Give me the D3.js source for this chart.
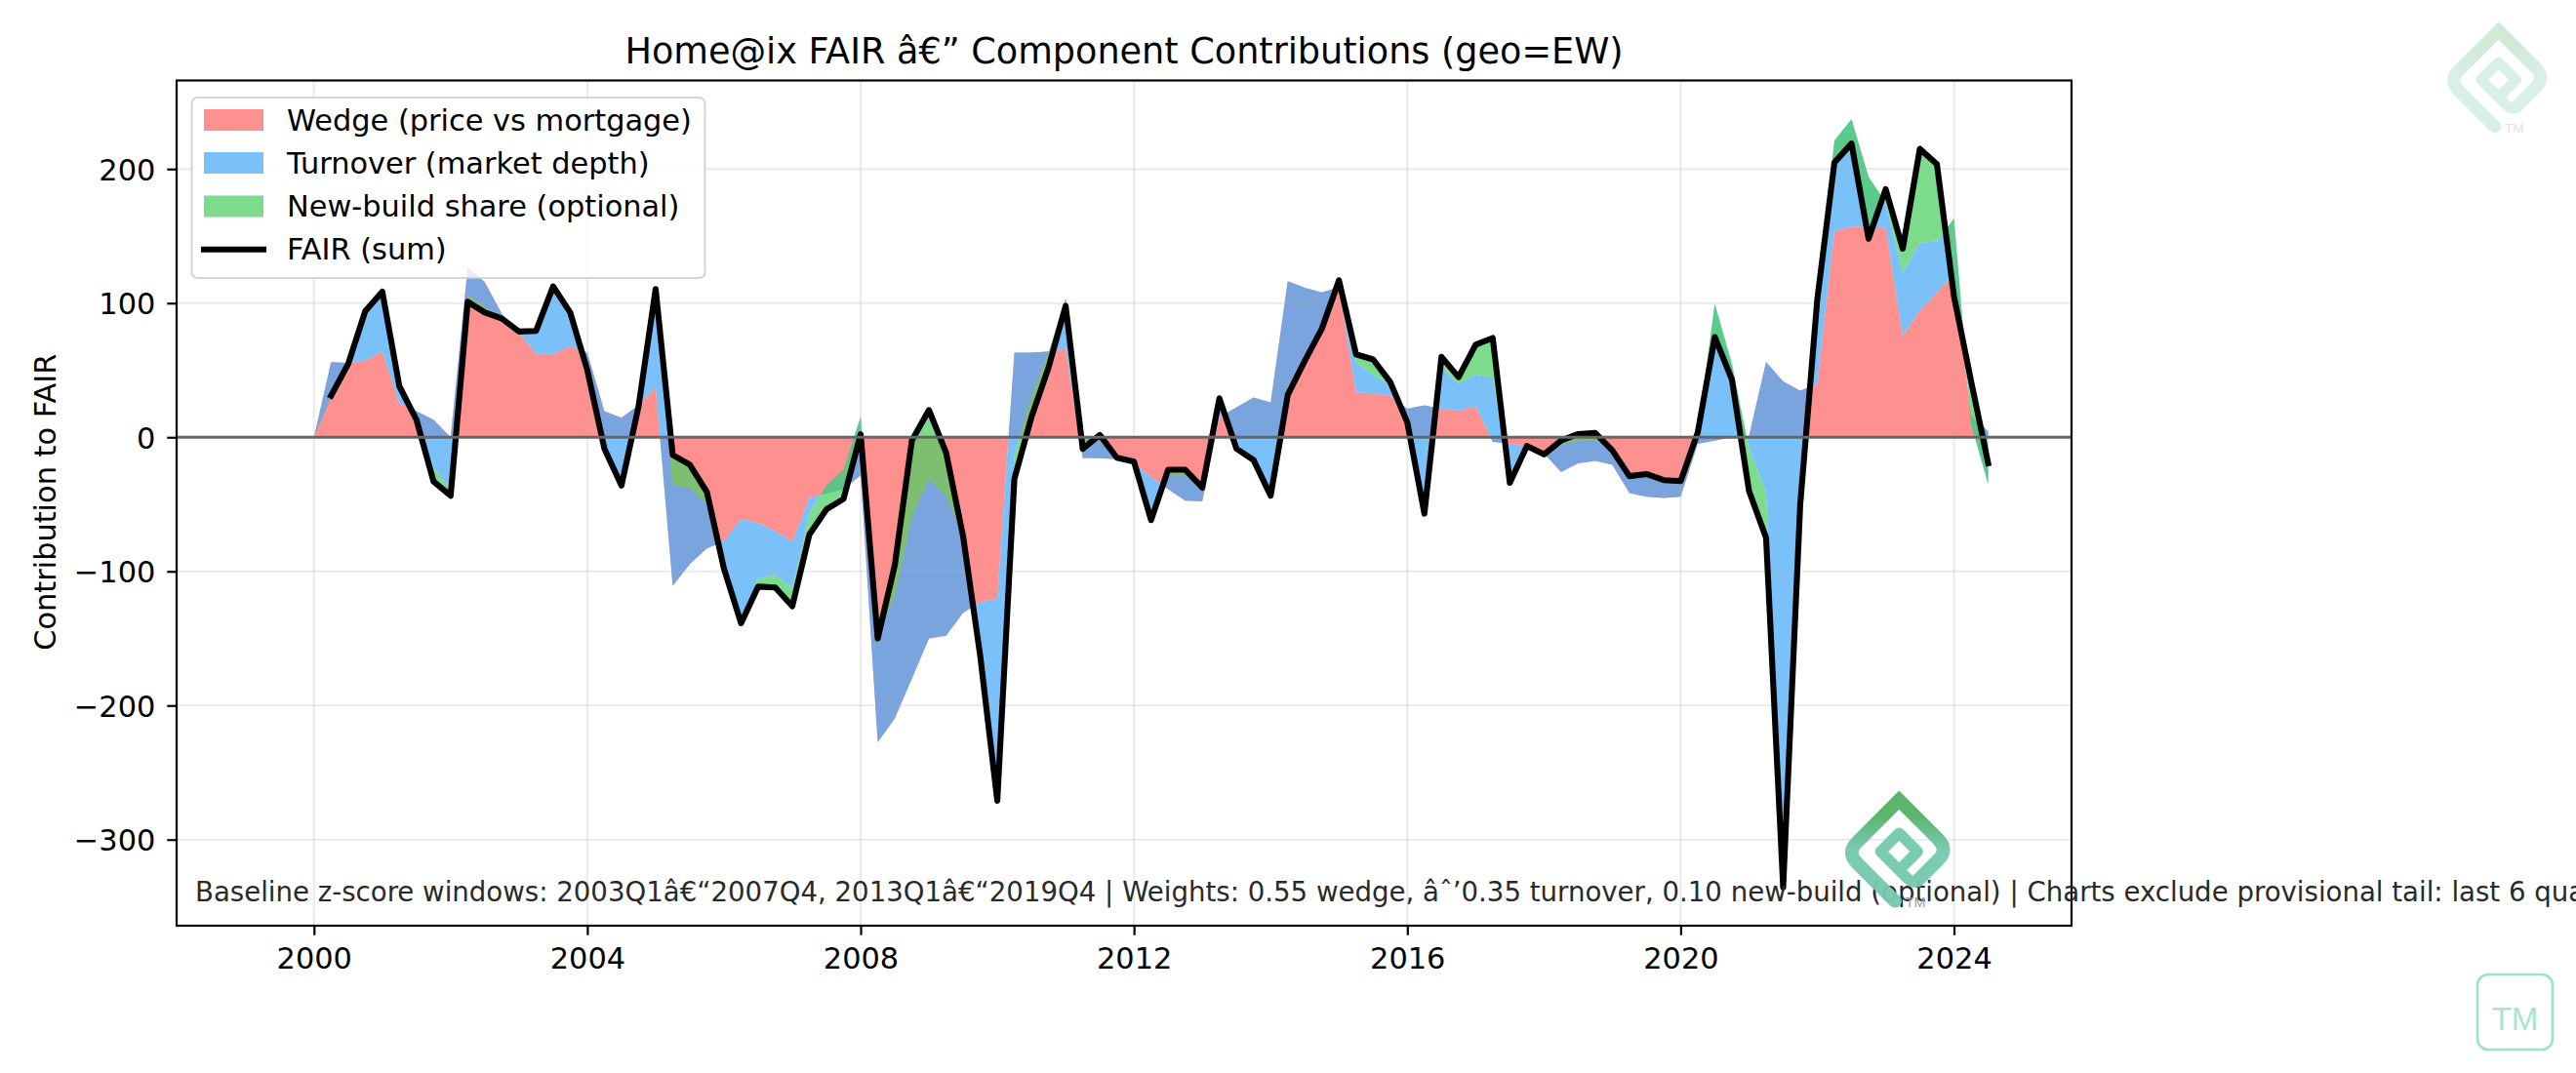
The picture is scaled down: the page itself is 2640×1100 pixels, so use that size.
<!DOCTYPE html>
<html>
<head>
<meta charset="utf-8">
<style>
  html, body { margin: 0; padding: 0; background: #fff; }
  svg { display: block; }
  text { font-family: "DejaVu Sans", sans-serif; }
</style>
<script src="https://cdn.jsdelivr.net/npm/d3@7/dist/d3.min.js"></script>
</head>
<body>
<svg id="chart" width="2640" height="1100"></svg>
<script>
// Quarterly contributions, first observation at 2000 Q1.
const startYear = 2000;
const wedge = [0,56,55.5,57,64,25,19.5,13,0,126.5,115.6,92,78,62.3,62,67.6,63,19.4,14.5,24,37.5,
  -111,-94.5,-83,-77.7,-61,-64,-70,-78,-45,-42,-39,-28.3,-227.5,-209.6,-180,-150,-148,-131,-123,-120.5,
  63,63,64,66,-15.5,-15.7,-16.4,-18.7,-29.8,-38.8,-47.3,-47.8,15,22.3,29.6,26,116.4,111.5,108,112,
  33.2,32.7,31,21.3,23.8,21,19.9,23,-3.5,-4.8,-7,-12,-26,-19.4,-17.7,-20.6,-41.7,-44.4,-45.3,-44.4,
  -5,-2.5,0,1,56.2,41.7,34.7,40,153.5,157,157,156,75.6,94.5,108,121.7,16,4.4];
const turnover = [0,-26,-1,37,44.6,13,-6.5,-36,-39,-20.5,-18.6,-3,0.8,17,47,25.4,-13,-27.9,-45.5,-1,73,
  75.7,56.5,33,-20.3,-77,-41.7,-32.6,-34.7,-12,6,14.6,43.6,80.5,91.6,120.5,119,104,59,-40,-141.5,
  -76,-33,-1,37.5,13,17.7,1.1,0.5,-30.2,9.8,19.3,10.2,14,-30.8,-46.6,-69.6,-78.8,-51.5,-27,5,
  22.6,14.1,8,-10.3,-80.8,31,20.1,23.8,48.3,-29.2,0.5,-0.8,20,17,15.7,10.9,12.7,17,13.3,11.7,
  8.6,101.9,54.5,-9.5,-97.2,-373.7,-77.7,60,67.5,80,37,19,46.8,50.5,38,41.3,-6,-39.4];
const newBuild = [0,1,0,0,0,0,0,-10,-4.6,-5,-4,-0.5,0,0,3.5,0,0,0,-5,0,0,
  22.1,17.5,9.2,0,-0.7,-5.7,-9.4,-13.3,-15.5,-17.8,-21.6,-13,-3,22.7,57.2,51.3,32.6,-2,0,-9,
  -18,-15,-11,-5.5,-6.2,-0.3,0,0,-1.8,4.8,3.8,0,0,0,0,0,-6.1,-3,0,0,
  6,11.2,2.2,0,0,7.9,4.8,22.2,29.2,0,0,0,3.6,4.8,5.2,0,0,0,0,0,
  0,-24.7,-11.5,-31.5,-34,-3.5,-7,3,-16.2,-18,-46,10,18.2,70,57.6,-58,32,15.6];

const yearTicks = [2000, 2004, 2008, 2012, 2016, 2020, 2024];
const valueTicks = [-300, -200, -100, 0, 100, 200];

const seriesNames = ["Wedge (price vs mortgage)", "Turnover (market depth)", "New-build share (optional)"];
const seriesColors = ["#ff6b6b", "#4dabf7", "#51cf66"];
const lineName = "FAIR (sum)";

const titleText = "Home@ix FAIR \u00e2\u20ac\u201d Component Contributions (geo=EW)";
const yLabel = "Contribution to FAIR";
const footNote = "Baseline z-score windows: 2003Q1\u00e2\u20ac\u201c2007Q4, 2013Q1\u00e2\u20ac\u201c2019Q4 | Weights: 0.55 wedge, \u00e2\u02c6\u20190.35 turnover, 0.10 new-build (optional) | Charts exclude provisional tail: last 6 quarters";

// Plot frame and scales
const frame = { left: 181, right: 2123, top: 82.5, bottom: 949 };
const x = d3.scaleLinear().domain([1997.99, 2025.72]).range([frame.left, frame.right]);
const y = d3.scaleLinear().domain([-364.2, 266]).range([frame.bottom, frame.top]);

const rows = wedge.map((w, i) => {
  const year = startYear + i / 4;
  const a = w, b = w + turnover[i], c = b + newBuild[i];
  return { i, year, a, b, c };
});

const svg = d3.select("#chart");

// Stacked bands: each one runs from the previous cumulative level to its own
const bands = [
  { lo: () => 0, hi: d => d.a },
  { lo: d => d.a, hi: d => d.b },
  { lo: d => d.b, hi: d => d.c }
];
const gBands = svg.append("g");
bands.forEach((band, k) => {
  const area = d3.area().x(d => x(d.year)).y0(d => y(band.lo(d))).y1(d => y(band.hi(d)));
  gBands.append("path").attr("d", area(rows)).attr("fill", seriesColors[k]).attr("fill-opacity", 0.75);
});

// Grid
const gGrid = svg.append("g").attr("stroke", "#b0b0b0").attr("stroke-opacity", 0.25).attr("stroke-width", 2.2);
gGrid.selectAll("line.v").data(yearTicks).join("line")
  .attr("x1", d => x(d)).attr("x2", d => x(d)).attr("y1", frame.top).attr("y2", frame.bottom);
gGrid.selectAll("line.h").data(valueTicks).join("line")
  .attr("y1", d => y(d)).attr("y2", d => y(d)).attr("x1", frame.left).attr("x2", frame.right);

// FAIR line starts one quarter in
const fairLine = d3.line().defined(d => d.i > 0).x(d => x(d.year)).y(d => y(d.c));
svg.append("path").attr("d", fairLine(rows)).attr("fill", "none").attr("stroke", "#000")
  .attr("stroke-width", 6.1).attr("stroke-linejoin", "round").attr("stroke-linecap", "square");

// Zero reference
svg.append("line").attr("x1", frame.left).attr("x2", frame.right).attr("y1", y(0)).attr("y2", y(0))
  .attr("stroke", "#666").attr("stroke-width", 2.8);

// Frame and axes
svg.append("rect").attr("x", frame.left).attr("y", frame.top)
  .attr("width", frame.right - frame.left).attr("height", frame.bottom - frame.top)
  .attr("fill", "none").attr("stroke", "#000").attr("stroke-width", 2.2);

const axisB = svg.append("g").attr("transform", `translate(0,${frame.bottom})`)
  .call(d3.axisBottom(x).tickValues(yearTicks).tickFormat(d3.format("d")).tickSize(9.7).tickPadding(9.7));
const axisL = svg.append("g").attr("transform", `translate(${frame.left},0)`)
  .call(d3.axisLeft(y).tickValues(valueTicks).tickFormat(d => d < 0 ? "\u2212" + Math.abs(d) : String(d)).tickSize(9.7).tickPadding(12));
[axisB, axisL].forEach(g => {
  g.select(".domain").remove();
  g.selectAll("line").attr("stroke", "#000").attr("stroke-width", 2.2);
  g.selectAll("text").attr("fill", "#000").attr("font-size", 30.4);
});
axisB.selectAll("text").attr("dy", 24.6);
axisL.selectAll("text").attr("dy", "0.36em");

// Title and labels
svg.append("text").attr("x", (frame.left + frame.right) / 2).attr("y", 65)
  .attr("text-anchor", "middle").attr("font-size", 36.6).attr("fill", "#000").text(titleText);
svg.append("text").attr("transform", `translate(57,${(frame.top + frame.bottom) / 2 - 1}) rotate(-90)`)
  .attr("text-anchor", "middle").attr("font-size", 30.4).attr("fill", "#000").text(yLabel);
svg.append("text").attr("x", 200).attr("y", 924).attr("font-size", 27.6).attr("fill", "#2a2a2a").text(footNote);

// Legend
const legend = svg.append("g");
legend.append("rect").attr("x", 196.5).attr("y", 100).attr("width", 526).attr("height", 185).attr("rx", 6)
  .attr("fill", "#fff").attr("fill-opacity", 0.8).attr("stroke", "#ccc").attr("stroke-opacity", 0.8).attr("stroke-width", 2.2);
const rowY = [123, 167, 211.5, 255.7];
seriesNames.forEach((name, k) => {
  legend.append("rect").attr("x", 209).attr("y", rowY[k] - 11).attr("width", 61).attr("height", 22)
    .attr("fill", seriesColors[k]).attr("fill-opacity", 0.75);
  legend.append("text").attr("x", 294).attr("y", rowY[k] + 10.5).attr("font-size", 30.4).attr("fill", "#000").text(name);
});
legend.append("line").attr("x1", 209).attr("x2", 270).attr("y1", rowY[3]).attr("y2", rowY[3])
  .attr("stroke", "#000").attr("stroke-width", 6.1).attr("stroke-linecap", "square");
legend.append("text").attr("x", 294).attr("y", rowY[3] + 10.5).attr("font-size", 30.4).attr("fill", "#000").text(lineName);

// Brand mark: a square spiral, outer turn fading from green to teal
const defs = svg.append("defs");
const fade = defs.append("linearGradient").attr("id", "markFade").attr("gradientUnits", "userSpaceOnUse")
  .attr("x1", 0).attr("x2", 0).attr("y1", -50).attr("y2", -2);
fade.append("stop").attr("offset", 0.3).attr("stop-color", "#55b366");
fade.append("stop").attr("offset", 1).attr("stop-color", "#75c9ae");
const outerSpiral = "M-4,48 L-41,11 Q-51,1 -41,-9 L0,-50 L38,-12 Q48,-2 38,8 L18,28";
const innerSpiral = "M18,28 Q14,32 8,26 L-18,0 L0,-18 L18,0 L0,18";

function drawMark(cx, cy, scale, opacity, tmFill) {
  const g = svg.append("g").attr("transform", `translate(${cx},${cy}) scale(${scale})`).attr("opacity", opacity);
  g.append("path").attr("d", innerSpiral).attr("fill", "none").attr("stroke", "#75c9ae")
    .attr("stroke-width", 10.6).attr("stroke-linecap", "butt").attr("stroke-linejoin", "round");
  g.append("path").attr("d", outerSpiral).attr("fill", "none").attr("stroke", "url(#markFade)")
    .attr("stroke-width", 13).attr("stroke-linecap", "round").attr("stroke-linejoin", "miter");
  g.append("text").attr("x", 6.2).attr("y", 54).attr("font-size", 13.5).attr("fill", tmFill)
    .style("font-family", "Liberation Sans").text("TM");
}
drawMark(2560.7, 81.7, 1, 0.27, "#8a9aa8");
drawMark(1946.3, 873, 1.055, 0.96, "#8a9aa8");

// Trademark badge
svg.append("rect").attr("x", 2539).attr("y", 999).attr("width", 77).attr("height", 77).attr("rx", 11)
  .attr("fill", "none").attr("stroke", "#9ae3c9").attr("stroke-width", 2.6);
svg.append("text").attr("x", 2577.5).attr("y", 1056).attr("text-anchor", "middle").attr("font-size", 33)
  .attr("fill", "#a5e6cf").style("font-family", "Liberation Sans").text("TM");
</script>
</body>
</html>
